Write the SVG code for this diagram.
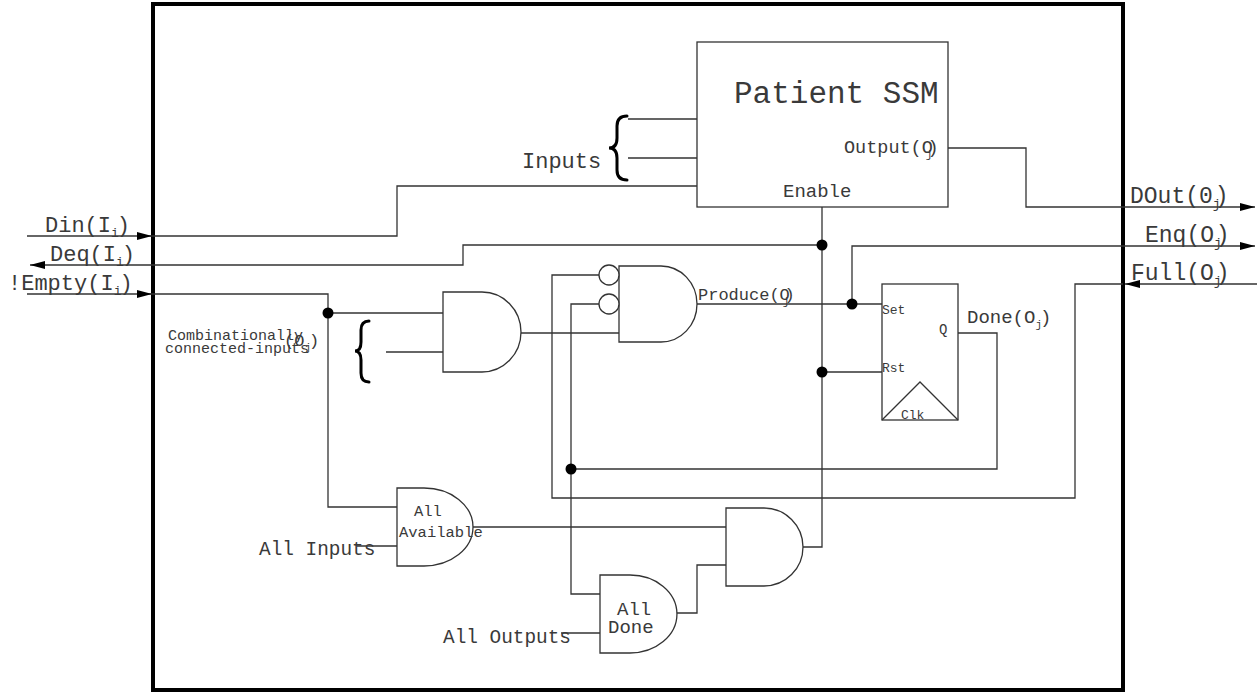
<svg xmlns="http://www.w3.org/2000/svg" width="1257" height="694" viewBox="0 0 1257 694">
<defs>
<marker id="arr" markerUnits="userSpaceOnUse" markerWidth="16" markerHeight="10" refX="15" refY="5" orient="auto"><path d="M0,1 L15,5 L0,9 Z" fill="#000"/></marker>
<style>
.w{fill:none;stroke:#333;stroke-width:1.3}
.g{fill:#fff;stroke:#333;stroke-width:1.3}
.b{fill:none;stroke:#000;stroke-width:3;stroke-linecap:round}
.d{fill:#000}
text{font-family:"Liberation Mono","Courier New",monospace;fill:#3a3a3a}
</style>
</defs>
<rect x="153" y="4" width="970" height="686" fill="#fff" stroke="#000" stroke-width="4"/>
<g id="connectors">
<path class="w" d="M27,236 H152" marker-end="url(#arr)"/>
<path class="w" d="M152,236 H397 V186 H697"/>
<path class="w" d="M822,245 H463 V265 H30" marker-end="url(#arr)"/>
<path class="w" d="M27,294 H152" marker-end="url(#arr)"/>
<path class="w" d="M152,294 H328 V507 H397"/>
<path class="w" d="M328,313 H443"/>
<path class="w" d="M386,352 H443"/>
<path class="w" d="M521,333 H619"/>
<path class="w" d="M628,119 H697 M628,158 H697"/>
<path class="w" d="M948,148 H1026 V207 H1255" marker-end="url(#arr)"/>
<path class="w" d="M852,304 V246 H1255" marker-end="url(#arr)"/>
<path class="w" d="M1257,284 H1125" marker-end="url(#arr)"/>
<path class="w" d="M1123,284 H1075 V498 H552 V275 H599"/>
<path class="w" d="M697,304 H882"/>
<path class="w" d="M822,207 V547 H803"/>
<path class="w" d="M822,372 H882"/>
<path class="w" d="M958,333 H997 V469 H571"/>
<path class="w" d="M599,304 H571 V594 H600"/>
<path class="w" d="M357,546 H397"/>
<path class="w" d="M473,527 H726"/>
<path class="w" d="M561,633 H600"/>
<path class="w" d="M677,613 H697 V565 H726"/>
<circle class="d" cx="328" cy="313" r="5.5"/>
<circle class="d" cx="822" cy="245" r="5.5"/>
<circle class="d" cx="852" cy="304" r="5.5"/>
<circle class="d" cx="822" cy="372" r="5.5"/>
<circle class="d" cx="571" cy="469" r="5.5"/>
</g>
<g id="ports">
<text x="45" y="232" font-size="22">Din(I<tspan font-size="13" dy="5">i</tspan><tspan dy="-5" dx="-2">)</tspan></text>
<text x="50" y="261" font-size="22">Deq(I<tspan font-size="13" dy="5">i</tspan><tspan dy="-5" dx="-2">)</tspan></text>
<text x="8" y="290" font-size="22">!Empty(I<tspan font-size="13" dy="5">i</tspan><tspan dy="-5" dx="-2">)</tspan></text>
<text x="1130" y="203" font-size="23">DOut(0<tspan font-size="13" dy="5">j</tspan><tspan dy="-5" dx="-6">)</tspan></text>
<text x="1145" y="242" font-size="23">Enq(O<tspan font-size="13" dy="5">j</tspan><tspan dy="-5" dx="-6">)</tspan></text>
<text x="1131" y="280" font-size="23">Full(O<tspan font-size="13" dy="5">j</tspan><tspan dy="-5" dx="-6">)</tspan></text>
</g>
<g id="ssm">
<rect class="g" x="697" y="42" width="251" height="165"/>
<text x="734" y="103" font-size="31">Patient SSM</text>
<text x="844" y="153" font-size="18.5">Output(O<tspan font-size="11" dx="-7" dy="5">j</tspan><tspan dx="-5" dy="-5">)</tspan></text>
<text x="783" y="197" font-size="19">Enable</text>
</g>
<g id="inputs-brace">
<path class="b" d="M627,116 Q617,116 617,126 V138 Q617,148 609,148 Q617,148 617,158 V170 Q617,180 627,180"/>
<text x="522" y="168" font-size="22">Inputs</text>
</g>
<g id="comb">
<path class="b" d="M369,321 Q361,321 361,330 V342 Q361,351 355,351 Q361,351 361,360 V373 Q361,382 369,382"/>
<text x="168" y="340" font-size="15">Combinationally</text>
<text x="165" y="353" font-size="15">connected-inputs</text>
<text x="284" y="346" font-size="17">(O<tspan font-size="11" dy="5">j</tspan><tspan dy="-5" dx="-2">)</tspan></text>
</g>
<g id="and1"><path class="g" d="M443,292 H482 A39,40 0 0 1 482,372 H443 Z"/></g>
<g id="produce">
<path class="g" d="M619,266 H661 A36,38 0 0 1 661,342 H619 Z"/>
<circle class="g" cx="609" cy="275" r="10"/>
<circle class="g" cx="609" cy="304" r="10"/>
<text x="698" y="300" font-size="17">Produce(O<tspan font-size="11" dx="-7" dy="5">j</tspan><tspan dx="-5" dy="-5">)</tspan></text>
</g>
<g id="flipflop">
<rect class="g" x="882" y="284" width="76" height="136"/>
<path class="w" d="M882,420 L920,382 L958,420"/>
<text x="882" y="314" font-size="13">Set</text>
<text x="882" y="372" font-size="13">Rst</text>
<text x="939" y="334" font-size="14">Q</text>
<text x="901" y="419" font-size="13">Clk</text>
<text x="967" y="323" font-size="19">Done(O<tspan font-size="11" dy="5">j</tspan><tspan dy="-5" dx="-2">)</tspan></text>
</g>
<g id="all-available">
<path class="g" d="M397,488 H424 A49,39 0 0 1 424,566 H397 Z"/>
<text x="414" y="516" font-size="15.5">All</text>
<text x="399" y="537" font-size="15.5">Available</text>
<text x="259" y="555" font-size="19.4">All Inputs</text>
</g>
<g id="final-and"><path class="g" d="M726,508 H764 A39,39 0 0 1 764,586 H726 Z"/></g>
<g id="all-done">
<path class="g" d="M600,575 H630 A47,39 0 0 1 630,653 H600 Z"/>
<text x="617" y="615" font-size="19">All</text>
<text x="608" y="633" font-size="19">Done</text>
<text x="443" y="643" font-size="19.4">All Outputs</text>
</g>
</svg>
